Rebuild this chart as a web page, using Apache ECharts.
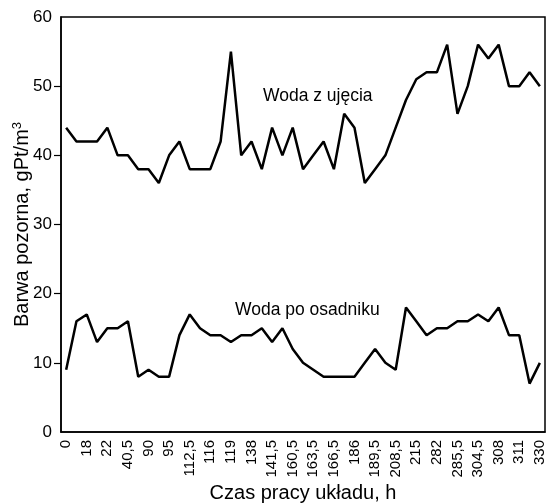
<!DOCTYPE html>
<html>
<head>
<meta charset="utf-8">
<script src="https://cdn.jsdelivr.net/npm/echarts@6/dist/echarts.min.js"></script>
<style>
  html, body { margin: 0; padding: 0; background: #fff; }
  #chart { width: 546px; height: 503px; }
</style>
</head>
<body>
<div id="chart"></div>
<script>
// podpisy osi X (co drugi punkt pomiarowy)
const tickLabels = ['0', '18', '22', '40,5', '90', '95', '112,5', '116', '119', '138', '141,5', '160,5',
  '163,5', '166,5', '186', '189,5', '208,5', '215', '282', '285,5', '304,5', '308', '311', '330']

// Woda z ujęcia
const wodaUjecie = [44, 42, 42, 42, 44, 40, 40, 38, 38, 36, 40, 42, 38, 38, 38, 42, 55, 40, 42, 38, 44, 40, 44, 38,
  40, 42, 38, 46, 44, 36, 38, 40, 44, 48, 51, 52, 52, 56, 46, 50, 56, 54, 56, 50, 50, 52, 50]

// Woda po osadniku
const wodaOsadnik = [9, 16, 17, 13, 15, 15, 16, 8, 9, 8, 8, 14, 17, 15, 14, 14, 13, 14, 14, 15, 13, 15, 12, 10,
  9, 8, 8, 8, 8, 10, 12, 10, 9, 18, 16, 14, 15, 15, 16, 16, 17, 16, 18, 14, 14, 7, 10]

// kreski osi Y (bez 0 i 60)
const yTicks = [10, 20, 30, 40, 50]

const categories = wodaUjecie.map((v, i) => i)

const font = 'Liberation Sans, Arial, sans-serif'

let myChart = echarts.init(document.getElementById('chart'))

let option = {
    animation: false,
    textStyle: { fontFamily: font },
    grid: {
        left: 61,
        right: 1,
        top: 17,
        bottom: 71,
        outerBoundsMode: 'none',
        containLabel: false,
        show: true,
        borderColor: '#000',
        borderWidth: 1.5
    },
    xAxis: {
        type: 'category',
        data: categories,
        boundaryGap: true,
        name: 'Czas pracy układu, h',
        nameLocation: 'middle',
        nameGap: 51,
        nameMoveOverlap: false,
        nameTextStyle: { color: '#000', fontSize: 20, fontFamily: font },
        axisLine: { lineStyle: { color: '#000', width: 1.5 } },
        axisTick: { interval: 0, length: 6, lineStyle: { color: '#000', width: 1.2 } },
        axisLabel: {
            interval: 1,
            rotate: 90,
            margin: 8,
            color: '#000',
            fontSize: 15,
            fontFamily: font,
            formatter: (value, index) => tickLabels[index / 2] || ''
        },
        splitLine: { show: false }
    },
    yAxis: {
        type: 'value',
        min: 0,
        max: 60,
        interval: 10,
        name: '{a|Barwa pozorna, gPt/m}{s|3}',
        nameLocation: 'middle',
        nameGap: 28,
        nameMoveOverlap: false,
        nameTextStyle: {
            color: '#000',
            fontSize: 20,
            fontFamily: font,
            rich: {
                a: { fontSize: 20, fontFamily: font, color: '#000', lineHeight: 22 },
                s: { fontSize: 13, fontFamily: font, color: '#000', verticalAlign: 'top', lineHeight: 22, padding: [0, 0, 8, 0] }
            }
        },
        axisLine: { show: true, lineStyle: { color: '#000', width: 1.5 } },
        axisTick: { show: true, length: 7, customValues: yTicks, lineStyle: { color: '#000', width: 1.2 } },
        axisLabel: { margin: 9, color: '#000', fontSize: 17, fontFamily: font },
        splitLine: { show: false }
    },
    graphic: [
        {
            type: 'text',
            left: 263,
            top: 87,
            style: { text: 'Woda z ujęcia', fill: '#000', font: '17.5px ' + font }
        },
        {
            type: 'text',
            left: 235,
            top: 301,
            style: { text: 'Woda po osadniku', fill: '#000', font: '17.5px ' + font }
        }
    ],
    series: [
        {
            name: 'Woda z ujęcia',
            type: 'line',
            data: wodaUjecie,
            symbol: 'none',
            lineStyle: { color: '#000', width: 2.5 }
        },
        {
            name: 'Woda po osadniku',
            type: 'line',
            data: wodaOsadnik,
            symbol: 'none',
            lineStyle: { color: '#000', width: 2.5 }
        }
    ]
}

myChart.setOption(option)
</script>
</body>
</html>
